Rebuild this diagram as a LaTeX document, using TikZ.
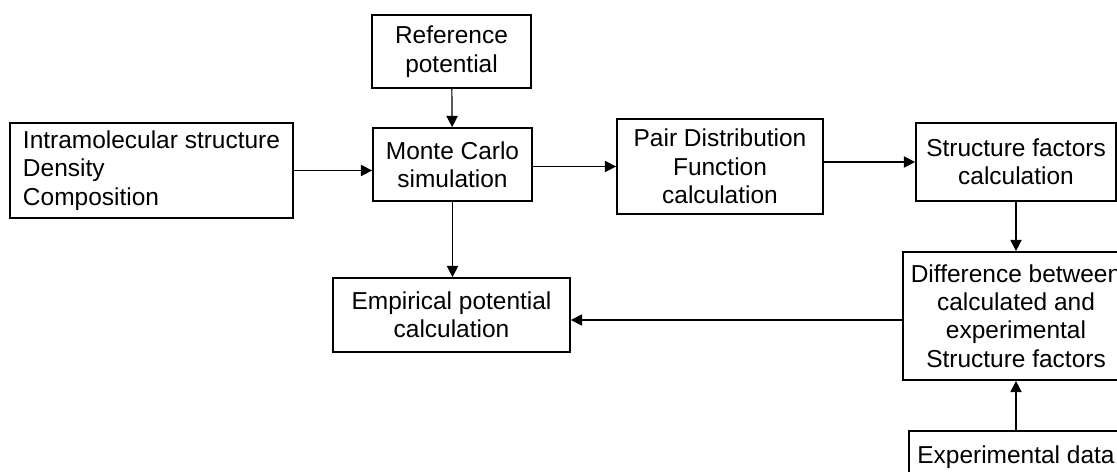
\documentclass[tikz,border=0pt]{standalone}
\usepackage{fontspec}
\setmainfont{Liberation Sans}
\usetikzlibrary{arrows.meta}

\begin{document}
\begin{tikzpicture}[x=0.025cm, y=-0.025cm]
\tikzset{boite/.style={draw, line width=1.2pt, align=center, inner sep=3pt, font=\fontsize{17.4}{20.2}\selectfont},
fleche/.style={line width=0.85pt, -{Triangle[length=8pt, width=8pt]}}}
\useasboundingbox (0, 0) rectangle (1117, 472);
\clip (0, 0) rectangle (1117, 472);
\node[boite, minimum width=3.975cm, minimum height=1.825cm] (Ref) at (451.5, 51.5) {Reference\\potential};
\node[boite, align=left, minimum width=7.075cm, minimum height=2.375cm] (Intra) at (151.5, 170.5) {Intramolecular structure\\Density\\Composition};
\node[boite, minimum width=3.975cm, minimum height=1.825cm] (MC) at (452.5, 164.5) {Monte Carlo\\simulation};
\node[boite, minimum width=5.15cm, minimum height=2.375cm] (PDF) at (720, 166.5) {Pair Distribution\\Function\\calculation};
\node[boite, minimum width=5cm, minimum height=1.95cm] (SF) at (1016, 162) {Structure factors\\calculation};
\node[boite, minimum width=5.925cm, minimum height=1.85cm] (Emp) at (451.5, 315) {Empirical potential\\calculation};
\node[boite, minimum width=5.65cm, minimum height=3.2cm] (Diff) at (1016, 316) {Difference between\\calculated and\\experimental\\Structure factors};
\node[boite, minimum width=5.35cm, minimum height=1.3cm] (Exp) at (1016, 457) {Experimental data};
\draw[fleche] (Ref) -- (MC);
\draw[fleche] (Intra.east) -- (Intra.east -| MC.west);
\draw[fleche] (PDF.west -| MC.east) -- (PDF.west);
\draw[fleche] (SF.west -| PDF.east) -- (SF.west);
\draw[fleche] (SF) -- (Diff);
\draw[fleche] (MC) -- (MC |- Emp.north);
\draw[fleche] ([yshift=-0.1cm]Diff.west) -- ([yshift=-0.1cm]Diff.west -| Emp.east);
\draw[fleche] (Exp) -- (Diff);
\end{tikzpicture}
\end{document}
